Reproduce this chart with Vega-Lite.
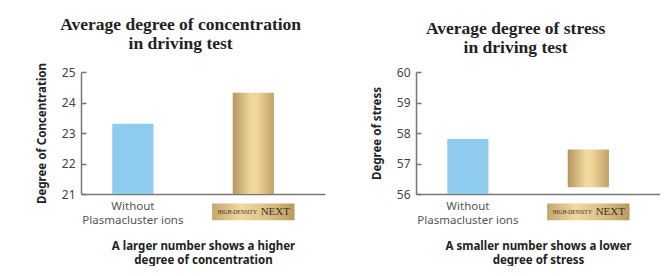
{
  "$schema": "https://vega.github.io/schema/vega-lite/v6.json",
  "background": "white",
  "padding": {"left": 36, "top": 15, "right": 0, "bottom": 0},
  "spacing": 46,
  "config": {
    "view": {"stroke": null},
    "font": "Noto Sans",
    "title": {"font": "Liberation Serif", "fontSize": 17.5, "fontWeight": "bold", "color": "#222222", "lineHeight": 19, "frame": "bounds", "anchor": "middle", "offset": 10},
    "axisY": {"domainColor": "#777777", "domainWidth": 1.5, "tickColor": "#777777", "tickWidth": 1.5, "tickSize": -5, "labelPadding": 11, "labelOverlap": false, "labelFontSize": 12, "labelColor": "#444444", "titleFontSize": 11.5, "titleFontWeight": "bold", "titleColor": "#222222", "titlePadding": 14, "grid": false},
    "axisX": {"domainColor": "#777777", "domainWidth": 1.5, "ticks": false, "labelAngle": 0, "labelPadding": 6, "labelFontSize": 11.5, "labelColor": "#555555", "labelLineHeight": 14, "labelBaseline": "top", "titleFontSize": 11.5, "titleFontWeight": "bold", "titleColor": "#222222", "titleLineHeight": 14, "titlePadding": 15, "grid": false}
  },
  "hconcat": [
    {
      "title": {"text": ["Average degree of concentration", "in driving test"]},
      "width": 244,
      "height": 122,
      "data": {"values": [
        {"group": "Without Plasmacluster ions", "value": 23.3, "base": 21},
        {"group": "HIGH-DENSITY NEXT", "value": 24.32, "base": 21}
      ]},
      "encoding": {
        "x": {"field": "group", "type": "nominal", "sort": ["Without Plasmacluster ions", "HIGH-DENSITY NEXT"],
              "scale": {"paddingInner": 0.658, "paddingOuter": 0.342, "align": 0.38},
              "axis": {"labelExpr": "datum.value == 'HIGH-DENSITY NEXT' ? '' : ['Without', 'Plasmacluster ions']",
                       "title": ["A larger number shows a higher", "degree of concentration"]}}
      },
      "layer": [
        {
          "transform": [{"filter": "datum.group == 'Without Plasmacluster ions'"}],
          "mark": {"type": "bar", "color": "#8ecbef"},
          "encoding": {
            "y": {"field": "value", "type": "quantitative", "scale": {"domain": [21, 25], "zero": false, "nice": false}, "axis": {"values": [21, 22, 23, 24, 25], "tickCount": 5, "labelOverlap": false, "title": "Degree of Concentration"}},
            "y2": {"field": "base"}
          }
        },
        {
          "transform": [{"filter": "datum.group == 'HIGH-DENSITY NEXT'"}],
          "mark": {"type": "bar", "color": {"gradient": "linear", "x1": 0, "x2": 1, "y1": 0, "y2": 0, "stops": [{"offset": 0, "color": "#b4975c"}, {"offset": 0.45, "color": "#f2d9a0"}, {"offset": 0.6, "color": "#efd49a"}, {"offset": 1, "color": "#c0a166"}]}},
          "encoding": {
            "y": {"field": "value", "type": "quantitative", "axis": {"values": [21, 22, 23, 24, 25], "tickCount": 5, "labelOverlap": false, "title": "Degree of Concentration"}},
            "y2": {"field": "base"}
          }
        },
        {
          "transform": [{"filter": "datum.group == 'HIGH-DENSITY NEXT'"}],
          "mark": {"type": "bar", "width": {"band": 2}, "clip": false, "color": {"gradient": "linear", "x1": 0, "x2": 1, "y1": 0, "y2": 0, "stops": [{"offset": 0, "color": "#c2a66e"}, {"offset": 0.35, "color": "#f0d9a2"}, {"offset": 0.7, "color": "#d9bd83"}, {"offset": 1, "color": "#b8995e"}]}},
          "encoding": {
            "y": {"datum": 20.69, "type": "quantitative", "axis": {"values": [21, 22, 23, 24, 25], "tickCount": 5, "labelOverlap": false, "title": "Degree of Concentration"}},
            "y2": {"datum": 20.14}
          }
        },
        {
          "transform": [{"filter": "datum.group == 'HIGH-DENSITY NEXT'"}],
          "mark": {"type": "text", "font": "Liberation Serif", "fontSize": 5.5, "color": "#3a3122", "dx": -16, "baseline": "middle"},
          "encoding": {
            "y": {"datum": 20.41, "type": "quantitative", "axis": {"values": [21, 22, 23, 24, 25], "tickCount": 5, "labelOverlap": false, "title": "Degree of Concentration"}},
            "text": {"value": "HIGH-DENSITY"}
          }
        },
        {
          "transform": [{"filter": "datum.group == 'HIGH-DENSITY NEXT'"}],
          "mark": {"type": "text", "font": "Liberation Serif", "fontSize": 11, "color": "#3a3122", "dx": 22, "baseline": "middle"},
          "encoding": {
            "y": {"datum": 20.41, "type": "quantitative", "axis": {"values": [21, 22, 23, 24, 25], "tickCount": 5, "labelOverlap": false, "title": "Degree of Concentration"}},
            "text": {"value": "NEXT"}
          }
        }
      ]
    },
    {
      "title": {"text": ["Average degree of stress", "in driving test"]},
      "width": 244,
      "height": 122,
      "data": {"values": [
        {"group": "Without Plasmacluster ions", "value": 57.8, "base": 56},
        {"group": "HIGH-DENSITY NEXT", "value": 57.46, "base": 56.22}
      ]},
      "encoding": {
        "x": {"field": "group", "type": "nominal", "sort": ["Without Plasmacluster ions", "HIGH-DENSITY NEXT"],
              "scale": {"paddingInner": 0.658, "paddingOuter": 0.342, "align": 0.38},
              "axis": {"labelExpr": "datum.value == 'HIGH-DENSITY NEXT' ? '' : ['Without', 'Plasmacluster ions']",
                       "title": ["A smaller number shows a lower", "degree of stress"]}}
      },
      "layer": [
        {
          "transform": [{"filter": "datum.group == 'Without Plasmacluster ions'"}],
          "mark": {"type": "bar", "color": "#8ecbef"},
          "encoding": {
            "y": {"field": "value", "type": "quantitative", "scale": {"domain": [56, 60], "zero": false, "nice": false}, "axis": {"values": [56, 57, 58, 59, 60], "tickCount": 5, "labelOverlap": false, "title": "Degree of stress"}},
            "y2": {"field": "base"}
          }
        },
        {
          "transform": [{"filter": "datum.group == 'HIGH-DENSITY NEXT'"}],
          "mark": {"type": "bar", "color": {"gradient": "linear", "x1": 0, "x2": 1, "y1": 0, "y2": 0, "stops": [{"offset": 0, "color": "#b4975c"}, {"offset": 0.45, "color": "#f2d9a0"}, {"offset": 0.6, "color": "#efd49a"}, {"offset": 1, "color": "#c0a166"}]}},
          "encoding": {
            "y": {"field": "value", "type": "quantitative", "axis": {"values": [56, 57, 58, 59, 60], "tickCount": 5, "labelOverlap": false, "title": "Degree of stress"}},
            "y2": {"field": "base"}
          }
        },
        {
          "transform": [{"filter": "datum.group == 'HIGH-DENSITY NEXT'"}],
          "mark": {"type": "bar", "width": {"band": 2}, "clip": false, "color": {"gradient": "linear", "x1": 0, "x2": 1, "y1": 0, "y2": 0, "stops": [{"offset": 0, "color": "#c2a66e"}, {"offset": 0.35, "color": "#f0d9a2"}, {"offset": 0.7, "color": "#d9bd83"}, {"offset": 1, "color": "#b8995e"}]}},
          "encoding": {
            "y": {"datum": 55.69, "type": "quantitative", "axis": {"values": [56, 57, 58, 59, 60], "tickCount": 5, "labelOverlap": false, "title": "Degree of stress"}},
            "y2": {"datum": 55.14}
          }
        },
        {
          "transform": [{"filter": "datum.group == 'HIGH-DENSITY NEXT'"}],
          "mark": {"type": "text", "font": "Liberation Serif", "fontSize": 5.5, "color": "#3a3122", "dx": -16, "baseline": "middle"},
          "encoding": {
            "y": {"datum": 55.41, "type": "quantitative", "axis": {"values": [56, 57, 58, 59, 60], "tickCount": 5, "labelOverlap": false, "title": "Degree of stress"}},
            "text": {"value": "HIGH-DENSITY"}
          }
        },
        {
          "transform": [{"filter": "datum.group == 'HIGH-DENSITY NEXT'"}],
          "mark": {"type": "text", "font": "Liberation Serif", "fontSize": 11, "color": "#3a3122", "dx": 22, "baseline": "middle"},
          "encoding": {
            "y": {"datum": 55.41, "type": "quantitative", "axis": {"values": [56, 57, 58, 59, 60], "tickCount": 5, "labelOverlap": false, "title": "Degree of stress"}},
            "text": {"value": "NEXT"}
          }
        }
      ]
    }
  ]
}
